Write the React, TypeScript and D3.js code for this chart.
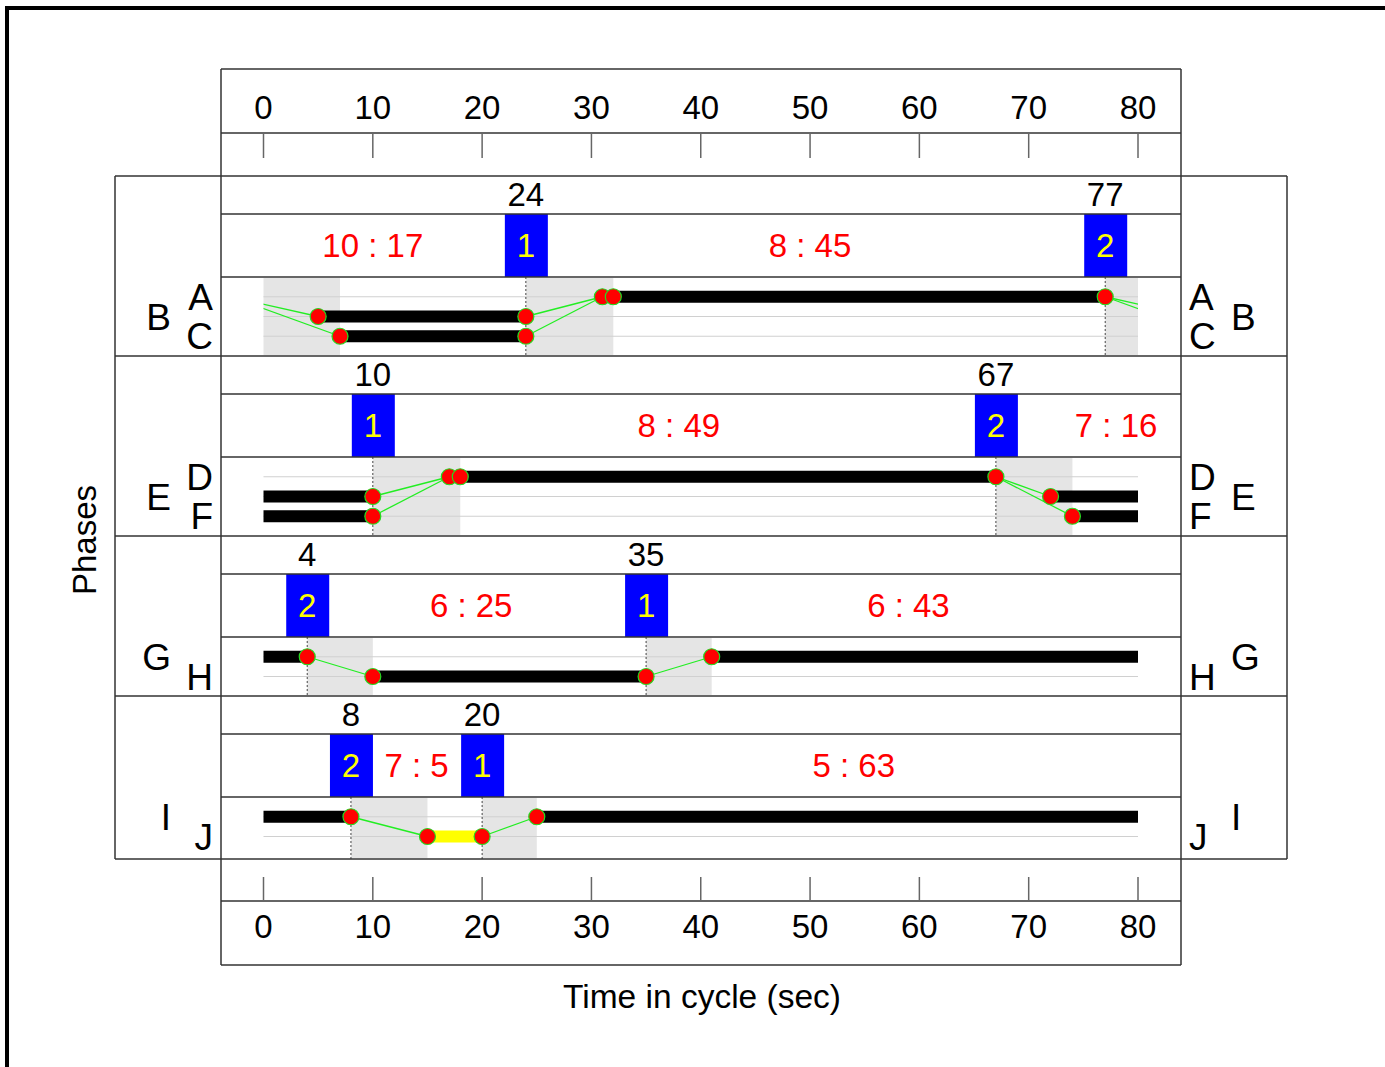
import React from 'react';
import * as d3 from 'd3';

const CYCLE = 80;
const TICKS = [0, 10, 20, 30, 40, 50, 60, 70, 80];

// lanes per row: name + which label column (inner near the plot, outer further away)
const ROW_LANES = [
  [{ name: 'A', side: 'inner' }, { name: 'B', side: 'outer' }, { name: 'C', side: 'inner' }],
  [{ name: 'D', side: 'inner' }, { name: 'E', side: 'outer' }, { name: 'F', side: 'inner' }],
  [{ name: 'G', side: 'outer' }, { name: 'H', side: 'inner' }],
  [{ name: 'I', side: 'outer' }, { name: 'J', side: 'inner' }],
];

// phase change times with the stage number shown in the blue box
const ROW_CHANGES = [
  [{ t: 24, stage: '1' }, { t: 77, stage: '2' }],
  [{ t: 10, stage: '1' }, { t: 67, stage: '2' }],
  [{ t: 4, stage: '2' }, { t: 35, stage: '1' }],
  [{ t: 8, stage: '2' }, { t: 20, stage: '1' }],
];

// "intergreen : green" labels and their position in the cycle
const ROW_SPLITS = [
  [{ text: '10 : 17', t: 10 }, { text: '8 : 45', t: 50 }],
  [{ text: '8 : 49', t: 38 }, { text: '7 : 16', t: 78 }],
  [{ text: '6 : 25', t: 19 }, { text: '6 : 43', t: 59 }],
  [{ text: '7 : 5', t: 14 }, { text: '5 : 63', t: 54 }],
];

// green (black) / amber (yellow) bars; end may exceed the cycle (wraps)
const ROW_BARS = [
  [{ lane: 0, start: 32, end: 77, kind: 'green' }, { lane: 1, start: 5, end: 24, kind: 'green' }, { lane: 2, start: 7, end: 24, kind: 'green' }],
  [{ lane: 0, start: 18, end: 67, kind: 'green' }, { lane: 1, start: 72, end: 90, kind: 'green' }, { lane: 2, start: 74, end: 90, kind: 'green' }],
  [{ lane: 0, start: 41, end: 84, kind: 'green' }, { lane: 1, start: 10, end: 35, kind: 'green' }],
  [{ lane: 0, start: 25, end: 88, kind: 'green' }, { lane: 1, start: 15, end: 20, kind: 'amber' }],
];

// event markers
const ROW_DOTS = [
  [{ lane: 0, t: 31 }, { lane: 0, t: 32 }, { lane: 0, t: 77 }, { lane: 1, t: 5 }, { lane: 1, t: 24 }, { lane: 2, t: 7 }, { lane: 2, t: 24 }],
  [{ lane: 0, t: 17 }, { lane: 0, t: 18 }, { lane: 0, t: 67 }, { lane: 1, t: 10 }, { lane: 1, t: 72 }, { lane: 2, t: 10 }, { lane: 2, t: 74 }],
  [{ lane: 0, t: 4 }, { lane: 1, t: 10 }, { lane: 1, t: 35 }, { lane: 0, t: 41 }],
  [{ lane: 0, t: 8 }, { lane: 1, t: 15 }, { lane: 1, t: 20 }, { lane: 0, t: 25 }],
];

// intergreen links: [fromLane, fromT, toLane, toT]
const ROW_LINKS = [
  [[0, 77, 1, 85], [0, 77, 2, 87], [1, 24, 0, 31], [2, 24, 0, 31]],
  [[1, 10, 0, 17], [2, 10, 0, 17], [0, 67, 1, 72], [0, 67, 2, 74]],
  [[0, 4, 1, 10], [1, 35, 0, 41]],
  [[0, 8, 1, 15], [1, 20, 0, 25]],
];

// intergreen periods (shaded)
const ROW_GRAY = [
  [[77, 87], [24, 32]],
  [[10, 18], [67, 74]],
  [[4, 10], [35, 41]],
  [[8, 15], [20, 25]],
];

const ROW_TOPS = [176, 356, 536, 696, 859];
const FONT = '"Liberation Sans", Arial, Helvetica, sans-serif';

export default function App() {
  const x = d3.scaleLinear().domain([0, CYCLE]).range([263.5, 1138]);
  const LINE = '#333';
  const numH = 38;
  const bandH = 63;
  const laneStep = 19.75;
  const offsets = [-CYCLE, 0];

  const rows = ROW_LANES.map((lanes, r) => {
    const top = ROW_TOPS[r];
    const bottom = ROW_TOPS[r + 1];
    const bandTop = top + numH;
    const laneTop = bandTop + bandH;
    const laneY = (i: number) => laneTop + laneStep * (i + 1);
    const clipId = `clip${r}`;
    return (
      <g key={r}>
        <clipPath id={clipId}>
          <rect x={x(0)} y={laneTop} width={x(CYCLE) - x(0)} height={bottom - laneTop} />
        </clipPath>
        {/* shaded intergreens */}
        <g clipPath={`url(#${clipId})`}>
          {ROW_GRAY[r].map(([a, b], i) =>
            offsets.map((o) => (
              <rect key={`${i}_${o}`} x={x(a + o)} y={laneTop + 1} width={x(b) - x(a)} height={bottom - laneTop - 2} fill="#e5e5e5" />
            ))
          )}
        </g>
        {/* lane grid */}
        {lanes.map((l, i) => (
          <line key={l.name} x1={x(0)} x2={x(CYCLE)} y1={laneY(i)} y2={laneY(i)} stroke="#d0d0d0" strokeWidth={1.2} />
        ))}
        {/* dotted change lines */}
        {ROW_CHANGES[r].map((c) => (
          <line key={c.t} x1={x(c.t)} x2={x(c.t)} y1={laneTop} y2={bottom} stroke="#444" strokeWidth={1} strokeDasharray="2,2" />
        ))}
        {/* bars */}
        <g clipPath={`url(#${clipId})`}>
          {ROW_BARS[r].map((b, i) =>
            offsets.map((o) => (
              <rect key={`${i}_${o}`} x={x(b.start + o)} y={laneY(b.lane) - 6} width={x(b.end) - x(b.start)} height={12}
                fill={b.kind === 'amber' ? '#ffff00' : '#000'} />
            ))
          )}
          {ROW_LINKS[r].map(([fl, ft, tl, tt], i) =>
            offsets.map((o) => (
              <line key={`${i}_${o}`} x1={x(ft + o)} y1={laneY(fl)} x2={x(tt + o)} y2={laneY(tl)} stroke="#22ee22" strokeWidth={1.3} />
            ))
          )}
        </g>
        {ROW_DOTS[r].map((d, i) => (
          <circle key={i} cx={x(d.t % CYCLE)} cy={laneY(d.lane)} r={8} fill="#ff0000" stroke="#22dd22" strokeWidth={1.2} />
        ))}
        {/* band: blue boxes & split labels */}
        {ROW_CHANGES[r].map((c) => (
          <g key={c.t}>
            <rect x={x(c.t) - 21} y={bandTop} width={43} height={bandH} fill="#0000ff" />
            <text x={x(c.t)} y={bandTop + bandH / 2 + 11} textAnchor="middle" fontSize={33} fill="#ffff00" fontFamily={FONT}>{c.stage}</text>
            <text x={x(c.t)} y={top + numH / 2 + 11} textAnchor="middle" fontSize={33} fill="#000" fontFamily={FONT}>{c.t}</text>
          </g>
        ))}
        {ROW_SPLITS[r].map((s) => (
          <text key={s.text} x={x(s.t)} y={bandTop + bandH / 2 + 11} textAnchor="middle" fontSize={33} fill="#ff0000" fontFamily={FONT}>{s.text}</text>
        ))}
        {/* lines of the row */}
        <line x1={221} x2={1181} y1={bandTop} y2={bandTop} stroke={LINE} strokeWidth={1.5} />
        <line x1={221} x2={1181} y1={laneTop} y2={laneTop} stroke={LINE} strokeWidth={1.5} />
        <line x1={115} x2={1287} y1={bottom} y2={bottom} stroke={LINE} strokeWidth={1.5} />
        {/* lane labels */}
        {lanes.map((l, i) => {
          const y = laneY(i) + 13;
          const inner = l.side === 'inner';
          return (
            <g key={l.name}>
              <text x={inner ? 213 : 171} y={y} textAnchor="end" fontSize={37} fontFamily={FONT}>{l.name}</text>
              <text x={inner ? 1189 : 1231} y={y} textAnchor="start" fontSize={37} fontFamily={FONT}>{l.name}</text>
            </g>
          );
        })}
      </g>
    );
  });

  return (
    <div style={{ position: 'absolute', left: 0, top: 0 }}>
      <svg width={1385} height={1067} style={{ display: 'block', background: '#fff' }}>
        {/* outer frame */}
        <path d="M7,1067 V8 H1385" fill="none" stroke="#000" strokeWidth={4} />
        {/* top axis box */}
        <line x1={221} x2={1181} y1={69} y2={69} stroke={LINE} strokeWidth={1.5} />
        <line x1={221} x2={1181} y1={133} y2={133} stroke={LINE} strokeWidth={1.5} />
        <line x1={115} x2={1287} y1={176} y2={176} stroke={LINE} strokeWidth={1.5} />
        {TICKS.map((t) => (
          <g key={`top${t}`}>
            <line x1={x(t)} x2={x(t)} y1={134} y2={158} stroke="#666" strokeWidth={1.5} />
            <text x={x(t)} y={119} textAnchor="middle" fontSize={33} fontFamily={FONT}>{t}</text>
          </g>
        ))}
        {rows}
        {/* bottom axis box */}
        <line x1={221} x2={1181} y1={901} y2={901} stroke={LINE} strokeWidth={1.5} />
        <line x1={221} x2={1181} y1={965} y2={965} stroke={LINE} strokeWidth={1.5} />
        {TICKS.map((t) => (
          <g key={`bot${t}`}>
            <line x1={x(t)} x2={x(t)} y1={877} y2={900} stroke="#666" strokeWidth={1.5} />
            <text x={x(t)} y={938} textAnchor="middle" fontSize={33} fontFamily={FONT}>{t}</text>
          </g>
        ))}
        {/* verticals */}
        <line x1={221} x2={221} y1={69} y2={965} stroke={LINE} strokeWidth={1.5} />
        <line x1={1181} x2={1181} y1={69} y2={965} stroke={LINE} strokeWidth={1.5} />
        <line x1={115} x2={115} y1={176} y2={859} stroke={LINE} strokeWidth={1.5} />
        <line x1={1287} x2={1287} y1={176} y2={859} stroke={LINE} strokeWidth={1.5} />
        {/* axis titles */}
        <text x={702} y={1008} textAnchor="middle" fontSize={33.5} fontFamily={FONT}>Time in cycle (sec)</text>
        <text transform="translate(96,540) rotate(-90)" textAnchor="middle" fontSize={33} fontFamily={FONT}>Phases</text>
      </svg>
    </div>
  );
}
